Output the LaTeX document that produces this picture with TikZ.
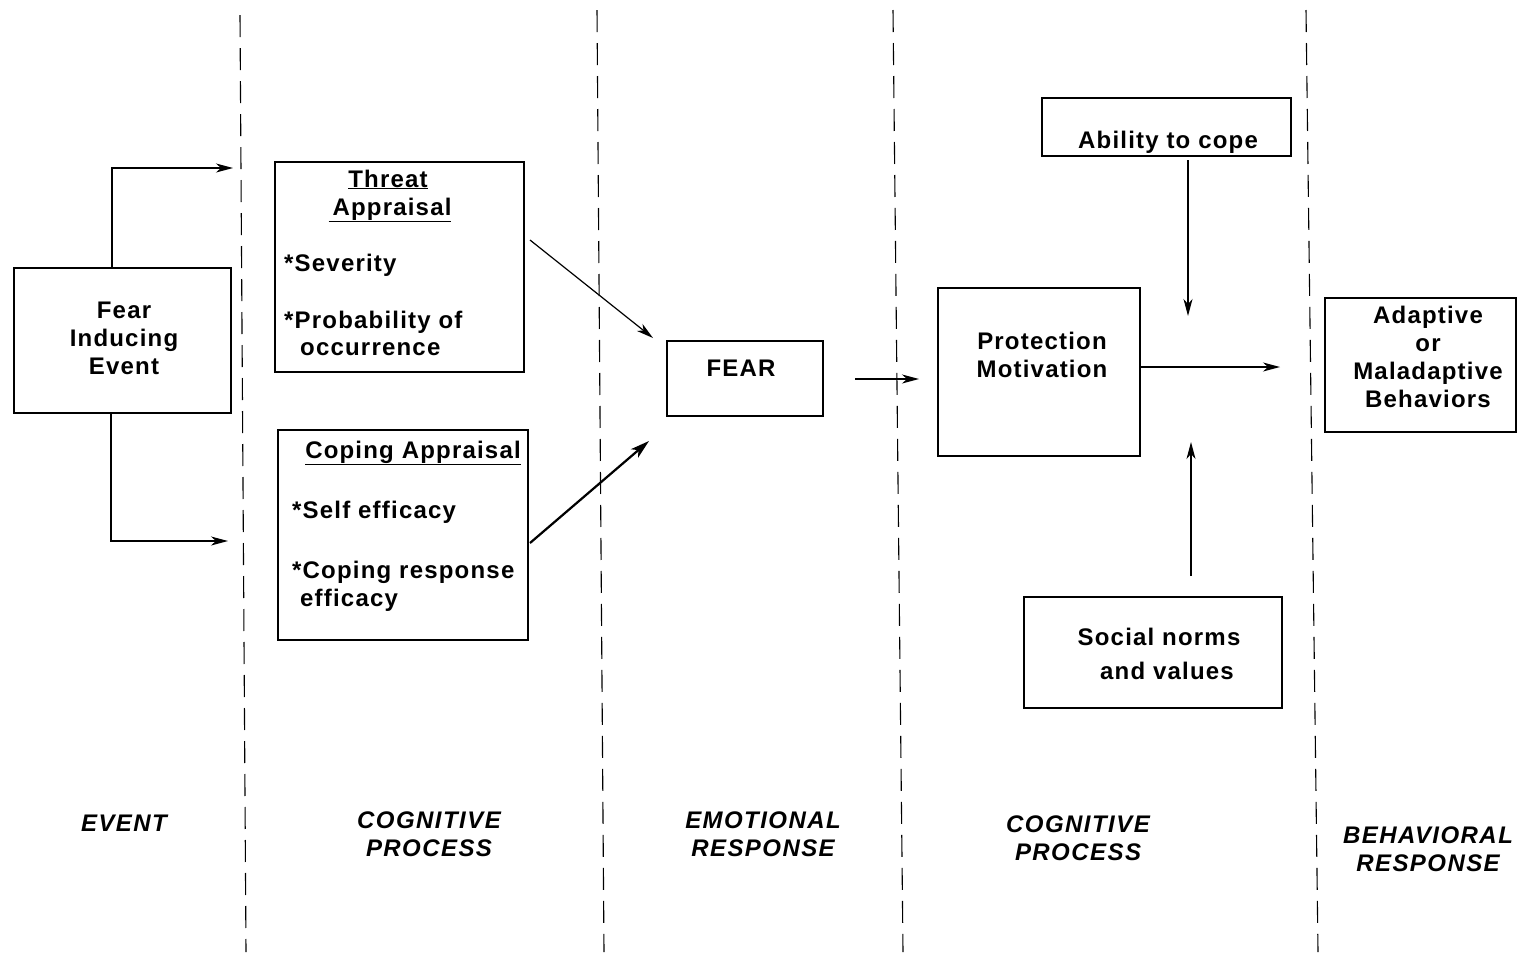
\documentclass[tikz,border=0pt]{standalone}
\usepackage{fontspec}
\setmainfont{Liberation Sans}
\newfontfamily\bx{Liberation Sans}[LetterSpace=5]
\newfontfamily\lx{Liberation Sans}[LetterSpace=6]
\usetikzlibrary{arrows.meta}
\begin{document}
\begin{tikzpicture}[x=1pt,y=-1pt,
  box/.style={draw, line width=1.5pt, inner sep=0pt},
  txt/.style={font=\bx\bfseries\fontsize{24}{28}\selectfont, inner sep=0pt},
  lbl/.style={font=\lx\bfseries\itshape\fontsize{24}{28}\selectfont, inner sep=0pt, align=center},
  divider/.style={line width=1.1pt, dash pattern=on 22pt off 11pt},
  arr/.style={line width=1.2pt, -{Stealth[length=17pt,width=9pt,inset=5pt]}},
  thickarr/.style={line width=2.2pt, -{Stealth[length=19pt,width=11pt,inset=5pt]}}]
\useasboundingbox (0,0) rectangle (1522,954);

% dividers
\coordinate (d1t) at (240,15);  \coordinate (d1b) at (246,952);
\coordinate (d2t) at (597,10);  \coordinate (d2b) at (604,952);
\coordinate (d3t) at (893,10);  \coordinate (d3b) at (903,952);
\coordinate (d4t) at (1306,10); \coordinate (d4b) at (1318,952);
\draw[divider] (d1t) -- (d1b);
\draw[divider] (d2t) -- (d2b);
\draw[divider] (d3t) -- (d3b);
\draw[divider] (d4t) -- (d4b);

% boxes
\node[box, minimum width=217pt, minimum height=145pt] (fie) at (122.5,340.5) {};
\node[box, minimum width=249pt, minimum height=210pt] (ta) at (399.5,267) {};
\node[box, minimum width=250pt, minimum height=210pt] (ca) at (403,535) {};
\node[box, minimum width=156pt, minimum height=75pt] (fear) at (745,378.5) {};
\node[box, minimum width=202pt, minimum height=168pt] (pm) at (1039,372) {};
\node[box, minimum width=249pt, minimum height=58pt] (ab) at (1166.5,127) {};
\node[box, minimum width=258pt, minimum height=111pt] (sn) at (1153,652.5) {};
\node[box, minimum width=191pt, minimum height=134pt] (ad) at (1420.5,365) {};

% texts
\node[txt, align=center] (fiet) at (124,338) {Fear\\Inducing\\Event};
\node[txt, anchor=base] (tat1) at (388,187) {\underline{Threat}};
\node[txt, anchor=base] (tat2) at (390,215) {\underline{\,Appraisal}};
\node[txt, anchor=base west] (tat3) at (284,271) {*Severity};
\node[txt, anchor=base west] (tat4) at (284,328) {*Probability of};
\node[txt, anchor=base west] (tat5) at (300,355) {occurrence};
\node[txt, anchor=base] (cat1) at (413,458) {\underline{Coping Appraisal}};
\node[txt, anchor=base west] (cat2) at (292,518) {*Self efficacy};
\node[txt, anchor=base west] (cat3) at (292,578) {*Coping response};
\node[txt, anchor=base west] (cat4) at (300,606) {efficacy};
\node[txt, anchor=base] (feart) at (741,376) {FEAR};
\node[txt, align=center] (pmt) at (1042,355) {Protection\\Motivation};
\node[txt, anchor=base] (abt) at (1168,148) {Ability to cope};
\node[txt, anchor=base] (snt1) at (1159,645) {Social norms};
\node[txt, anchor=base] (snt2) at (1167,679) {and values};
\node[txt, align=center] (adt) at (1428,357) {Adaptive\\or\\Maladaptive\\Behaviors};

% stage labels
\node[lbl, anchor=base] (l1) at (124,831) {EVENT};
\node[lbl] (l2) at (429,834) {COGNITIVE\\PROCESS};
\node[lbl] (l3) at (763,834) {EMOTIONAL\\RESPONSE};
\node[lbl] (l4) at (1078,838) {COGNITIVE\\PROCESS};
\node[lbl] (l5) at (1428,849) {BEHAVIORAL\\RESPONSE};

% connectors
\coordinate (c1) at (233,168);
\coordinate (c2) at (228,541);
\draw[arr] ([xshift=-10.5pt]fie.north) |- (c1);
\draw[arr] ([xshift=-11.5pt]fie.south) |- (c2);
\coordinate (ts) at (530,240); \coordinate (te) at (653,338);
\draw[arr] (ts) -- (te);
\coordinate (cs) at (530,543); \coordinate (ce) at (649,441);
\draw[thickarr] (cs) -- (ce);
\coordinate (fs) at (855,379); \coordinate (fe) at (919,379);
\draw[arr] (fs) -- (fe);
\coordinate (ps) at (1140,367); \coordinate (pe) at (1280,367);
\draw[arr] (ps) -- (pe);
\coordinate (as) at (1188,160); \coordinate (ae) at (1188,316);
\draw[arr] (as) -- (ae);
\coordinate (ss) at (1191,576); \coordinate (se) at (1191,442);
\draw[arr] (ss) -- (se);
\end{tikzpicture}
\end{document}
